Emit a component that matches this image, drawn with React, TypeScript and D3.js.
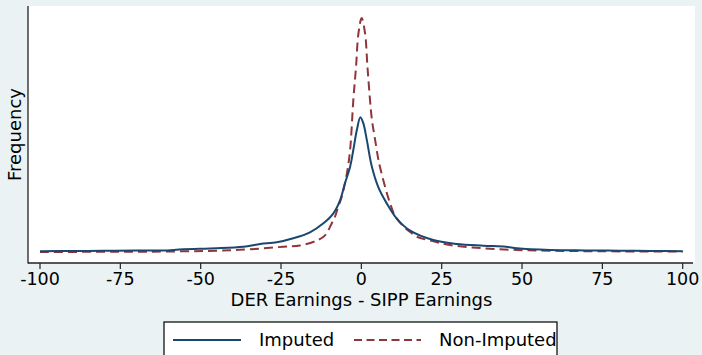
import React from "react";
import * as d3 from "d3";

const xTicks = [-100, -75, -50, -25, 0, 25, 50, 75, 100];
const seriesNames = ["Imputed", "Non-Imputed"];

// Kernel density (arbitrary frequency units)
const imputedX = [-100, -90, -80, -70, -62, -55.4, -45, -36.7, -31.5, -26.3, -21.2, -16, -11.8, -8.7, -6.6, -5.1, -3.5, -2.5, -1.4, -0.3, 0.6, 1.7, 3.2, 5.3, 7.9, 11, 15.2, 22.4, 29.7, 38, 45, 48.4, 58.7, 70, 80, 90, 100];
const imputedY = [4.6, 4.67, 4.75, 4.9, 4.85, 5.33, 5.72, 6.34, 7.39, 8.05, 9.61, 11.95, 15.45, 19.34, 24.51, 31.0, 37.47, 43.97, 51.75, 56.7, 54.4, 47.9, 37.8, 29.4, 23.2, 17.3, 12.6, 8.95, 7.39, 6.73, 6.3, 5.72, 5.06, 4.9, 4.8, 4.7, 4.6];

const nonImputedX = [-100, -80, -65.8, -45, -34.6, -24.3, -19.1, -13.9, -11.8, -10.8, -9.2, -8.2, -7.2, -6.1, -4.5, -3.5, -2.5, -1.65, -0.9, 0.1, 1.15, 1.9, 2.7, 3.3, 4.2, 5.2, 5.8, 7.4, 8.9, 10.5, 13, 15.2, 17.2, 21.4, 27.6, 37.9, 48.4, 58.7, 74.3, 100];
const nonImputedY = [4.3, 4.35, 4.4, 4.79, 5.33, 6.34, 6.8, 8.68, 10.23, 11.56, 15.45, 18.0, 21.9, 25.8, 34.9, 44.0, 63.4, 76.4, 89.4, 95.3, 89.4, 76.4, 63.4, 55.6, 48.6, 40.9, 37.35, 29.6, 23.35, 18.3, 14.4, 12.06, 10.23, 8.75, 7.0, 5.72, 5.06, 4.79, 4.55, 4.47];

const W = 702;
const H = 355;
const BG = "#eaf2f3";
const BLUE = "#1a476f";
const RED = "#90353b";
const FONT = "DejaVu Sans, sans-serif";

export default function App() {
  const plot = { left: 28, right: 695, top: 6, bottom: 263 };
  const x = d3.scaleLinear().domain([-100, 100]).range([40, 682.7]);
  const y = d3.scaleLinear().domain([0, 100]).range([263, 6]);

  const line = d3
    .line<[number, number]>()
    .x((d) => x(d[0]))
    .y((d) => y(d[1]))
    .curve(d3.curveCatmullRom.alpha(0.5));

  const imputed = imputedX.map((v, i) => [v, imputedY[i]] as [number, number]);
  const nonImputed = nonImputedX.map((v, i) => [v, nonImputedY[i]] as [number, number]);

  const legendLeft = 164;
  const legendRight = 557;
  const legendY = 340;

  return (
    <svg
      width={W}
      height={H}
      style={{ position: "absolute", left: 0, top: 0, display: "block" }}
      fontFamily={FONT}
    >
      <rect x={0} y={0} width={W} height={H} fill={BG} />
      <rect
        x={plot.left}
        y={plot.top}
        width={plot.right - plot.left}
        height={plot.bottom - plot.top}
        fill="#ffffff"
      />
      <path d={line(nonImputed) || ""} fill="none" stroke={RED} strokeWidth={2} strokeDasharray="9,5" />
      <path d={line(imputed) || ""} fill="none" stroke={BLUE} strokeWidth={2} />

      {/* axes */}
      <line x1={plot.left} x2={plot.left} y1={plot.top} y2={plot.bottom + 0.5} stroke="#222" strokeWidth={1.3} />
      <line x1={plot.left} x2={plot.right - 2} y1={plot.bottom} y2={plot.bottom} stroke="#222" strokeWidth={1.3} />
      {xTicks.map((t) => (
        <g key={t}>
          <line x1={x(t)} x2={x(t)} y1={plot.bottom} y2={plot.bottom + 6} stroke="#222" strokeWidth={1.2} />
          <text x={x(t)} y={285} textAnchor="middle" fontSize={17.5} fill="#000">
            {t}
          </text>
        </g>
      ))}
      <text x={(plot.left + plot.right) / 2} y={306} textAnchor="middle" fontSize={18} fill="#000">
        DER Earnings - SIPP Earnings
      </text>
      <text
        transform={`translate(20.5, ${(plot.top + plot.bottom) / 2}) rotate(-90)`}
        textAnchor="middle"
        fontSize={18}
        fill="#000"
      >
        Frequency
      </text>

      {/* legend */}
      <rect x={legendLeft} y={322} width={legendRight - legendLeft} height={50} fill="#fff" stroke="#000" strokeWidth={1.2} />
      <line x1={173} x2={241} y1={legendY} y2={legendY} stroke={BLUE} strokeWidth={2} />
      <text x={259} y={346} fontSize={18} fill="#000">
        {seriesNames[0]}
      </text>
      <line x1={354} x2={421} y1={legendY} y2={legendY} stroke={RED} strokeWidth={2} strokeDasharray="8,4.5" />
      <text x={439} y={346} fontSize={18} fill="#000">
        {seriesNames[1]}
      </text>
    </svg>
  );
}
